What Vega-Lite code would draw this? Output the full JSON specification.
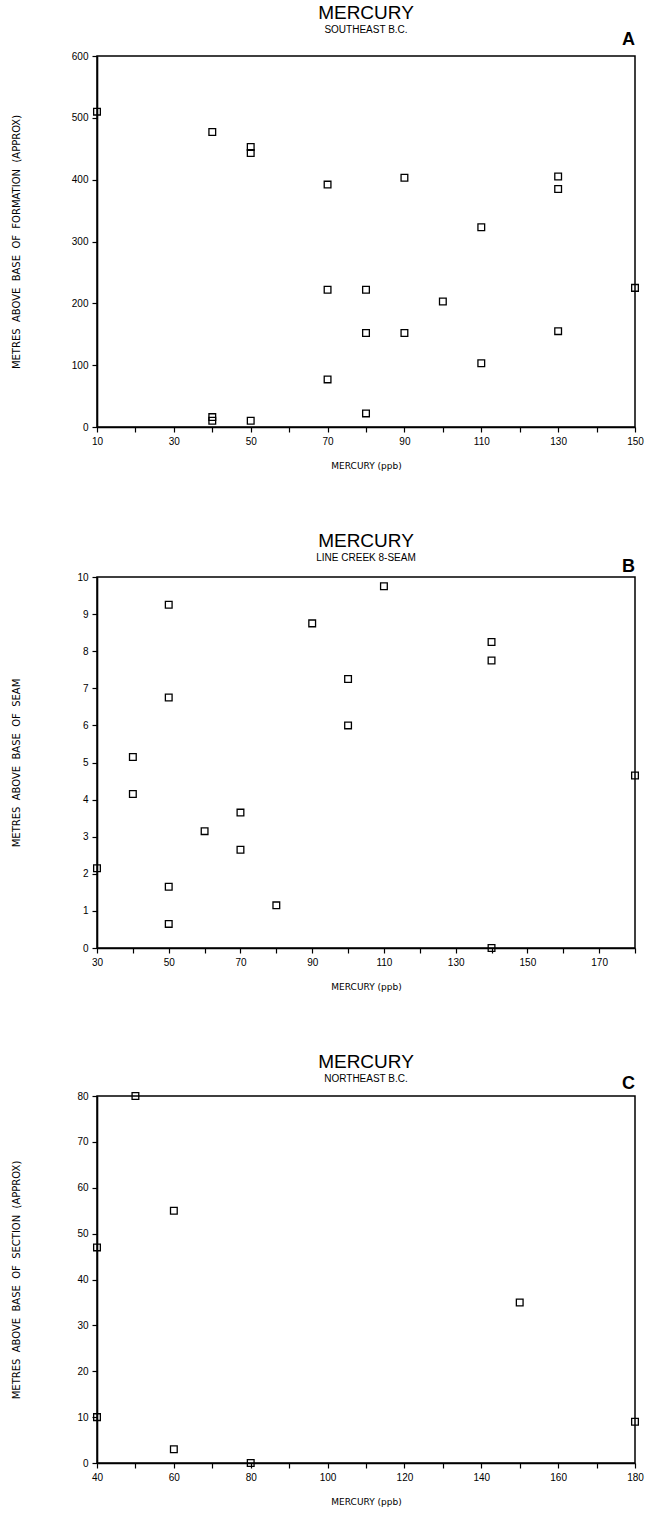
{
  "$schema": "https://vega.github.io/schema/vega-lite/v6.json",
  "background": "white",
  "padding": {"left": 10, "top": 3, "right": 5, "bottom": 2},
  "config": {
    "font": "Liberation Sans",
    "view": {"stroke": "black", "strokeWidth": 1.5},
    "axis": {
      "domainColor": "black", "domainWidth": 1.6,
      "tickColor": "black", "tickSize": 5, "tickWidth": 1.2,
      "labelColor": "black", "labelFontSize": 10, "labelPadding": 4,
      "labelOverlap": false, "labelFlush": false, "tickCount": 40,
      "titleFont": "DejaVu Sans", "titleFontSize": 9, "titleFontWeight": "normal", "titleColor": "black",
      "grid": false
    },
    "axisY": {"titleFontSize": 10},
    "title": {
      "fontSize": 19, "fontWeight": "normal", "color": "black",
      "subtitleFontSize": 10, "subtitleColor": "black", "subtitlePadding": 2,
      "anchor": "middle"
    },
    "concat": {"spacing": 60}
  },
  "vconcat": [
    {
      "width": 538, "height": 371,
      "title": {"text": "MERCURY", "subtitle": "SOUTHEAST B.C.", "offset": -4},
      "data": {"values": [
        {"hg": 10, "m": 510}, {"hg": 40, "m": 477}, {"hg": 40, "m": 16}, {"hg": 40, "m": 10},
        {"hg": 50, "m": 453}, {"hg": 50, "m": 443}, {"hg": 50, "m": 10},
        {"hg": 70, "m": 392}, {"hg": 70, "m": 222}, {"hg": 70, "m": 77},
        {"hg": 80, "m": 222}, {"hg": 80, "m": 152}, {"hg": 80, "m": 22},
        {"hg": 90, "m": 403}, {"hg": 90, "m": 152}, {"hg": 100, "m": 203},
        {"hg": 110, "m": 323}, {"hg": 110, "m": 103},
        {"hg": 130, "m": 405}, {"hg": 130, "m": 385}, {"hg": 130, "m": 155},
        {"hg": 150, "m": 225}
      ]},
      "encoding": {
        "x": {"field": "hg", "type": "quantitative", "scale": {"domain": [10, 150], "nice": false, "zero": false},
          "axis": {"values": [10,20,30,40,50,60,70,80,90,100,110,120,130,140,150], "tickCount": 40, "format": "d", "labelExpr": "datum.value % 20 == 10 ? datum.label : ''", "title": "MERCURY (ppb)", "titlePadding": 15}},
        "y": {"field": "m", "type": "quantitative", "scale": {"domain": [0, 600], "nice": false},
          "axis": {"values": [0,100,200,300,400,500,600], "tickCount": 40, "format": "d", "title": "METRES \u00a0ABOVE \u00a0BASE \u00a0OF \u00a0FORMATION \u00a0(APPROX)", "titleX": -76}}
      },
      "layer": [
        {"mark": {"type": "point", "shape": "square", "filled": false, "size": 45, "stroke": "black", "strokeWidth": 1.3, "opacity": 1}},
        {
          "data": {"values": [{"letter": "A", "hg": 150, "m": 600}]},
          "mark": {"type": "text", "fontWeight": "bold", "fontSize": 18, "align": "right", "baseline": "alphabetic", "dy": -11},
          "encoding": {"text": {"field": "letter"}}
        }
      ]
    },
    {
      "width": 538, "height": 371,
      "title": {"text": "MERCURY", "subtitle": "LINE CREEK 8-SEAM", "offset": -5},
      "data": {"values": [
        {"hg": 30, "m": 2.15}, {"hg": 40, "m": 5.15}, {"hg": 40, "m": 4.15},
        {"hg": 50, "m": 9.25}, {"hg": 50, "m": 6.75}, {"hg": 50, "m": 1.65}, {"hg": 50, "m": 0.65},
        {"hg": 60, "m": 3.15}, {"hg": 70, "m": 3.65}, {"hg": 70, "m": 2.65},
        {"hg": 80, "m": 1.15}, {"hg": 90, "m": 8.75},
        {"hg": 100, "m": 7.25}, {"hg": 100, "m": 6.0}, {"hg": 110, "m": 9.75},
        {"hg": 140, "m": 8.25}, {"hg": 140, "m": 7.75}, {"hg": 140, "m": 0.0},
        {"hg": 180, "m": 4.65}
      ]},
      "encoding": {
        "x": {"field": "hg", "type": "quantitative", "scale": {"domain": [30, 180], "nice": false, "zero": false},
          "axis": {"values": [30,40,50,60,70,80,90,100,110,120,130,140,150,160,170,180], "tickCount": 40, "format": "d", "labelExpr": "(datum.value - 30) % 20 == 0 && datum.value < 180 ? datum.label : ''", "title": "MERCURY (ppb)", "titlePadding": 15}},
        "y": {"field": "m", "type": "quantitative", "scale": {"domain": [0, 10], "nice": false},
          "axis": {"values": [0,1,2,3,4,5,6,7,8,9,10], "tickCount": 40, "format": "d", "labelOverlap": false, "title": "METRES \u00a0ABOVE \u00a0BASE \u00a0OF \u00a0SEAM", "titleX": -76}}
      },
      "layer": [
        {"mark": {"type": "point", "shape": "square", "filled": false, "size": 45, "stroke": "black", "strokeWidth": 1.3, "opacity": 1}},
        {
          "data": {"values": [{"letter": "B", "hg": 180, "m": 10}]},
          "mark": {"type": "text", "fontWeight": "bold", "fontSize": 18, "align": "right", "baseline": "alphabetic", "dy": -5},
          "encoding": {"text": {"field": "letter"}}
        }
      ]
    },
    {
      "width": 538, "height": 367,
      "title": {"text": "MERCURY", "subtitle": "NORTHEAST B.C.", "offset": -9},
      "data": {"values": [
        {"hg": 40, "m": 47}, {"hg": 40, "m": 10}, {"hg": 50, "m": 80},
        {"hg": 60, "m": 55}, {"hg": 60, "m": 3}, {"hg": 80, "m": 0},
        {"hg": 150, "m": 35}, {"hg": 180, "m": 9}
      ]},
      "encoding": {
        "x": {"field": "hg", "type": "quantitative", "scale": {"domain": [40, 180], "nice": false, "zero": false},
          "axis": {"values": [40,50,60,70,80,90,100,110,120,130,140,150,160,170,180], "tickCount": 40, "format": "d", "labelExpr": "datum.value % 20 == 0 ? datum.label : ''", "title": "MERCURY (ppb)", "titlePadding": 15}},
        "y": {"field": "m", "type": "quantitative", "scale": {"domain": [0, 80], "nice": false},
          "axis": {"values": [0,10,20,30,40,50,60,70,80], "tickCount": 40, "format": "d", "title": "METRES \u00a0ABOVE \u00a0BASE \u00a0OF \u00a0SECTION \u00a0(APPROX)", "titleX": -76}}
      },
      "layer": [
        {"mark": {"type": "point", "shape": "square", "filled": false, "size": 45, "stroke": "black", "strokeWidth": 1.3, "opacity": 1}},
        {
          "data": {"values": [{"letter": "C", "hg": 180, "m": 80}]},
          "mark": {"type": "text", "fontWeight": "bold", "fontSize": 18, "align": "right", "baseline": "alphabetic", "dy": -7},
          "encoding": {"text": {"field": "letter"}}
        }
      ]
    }
  ]
}
